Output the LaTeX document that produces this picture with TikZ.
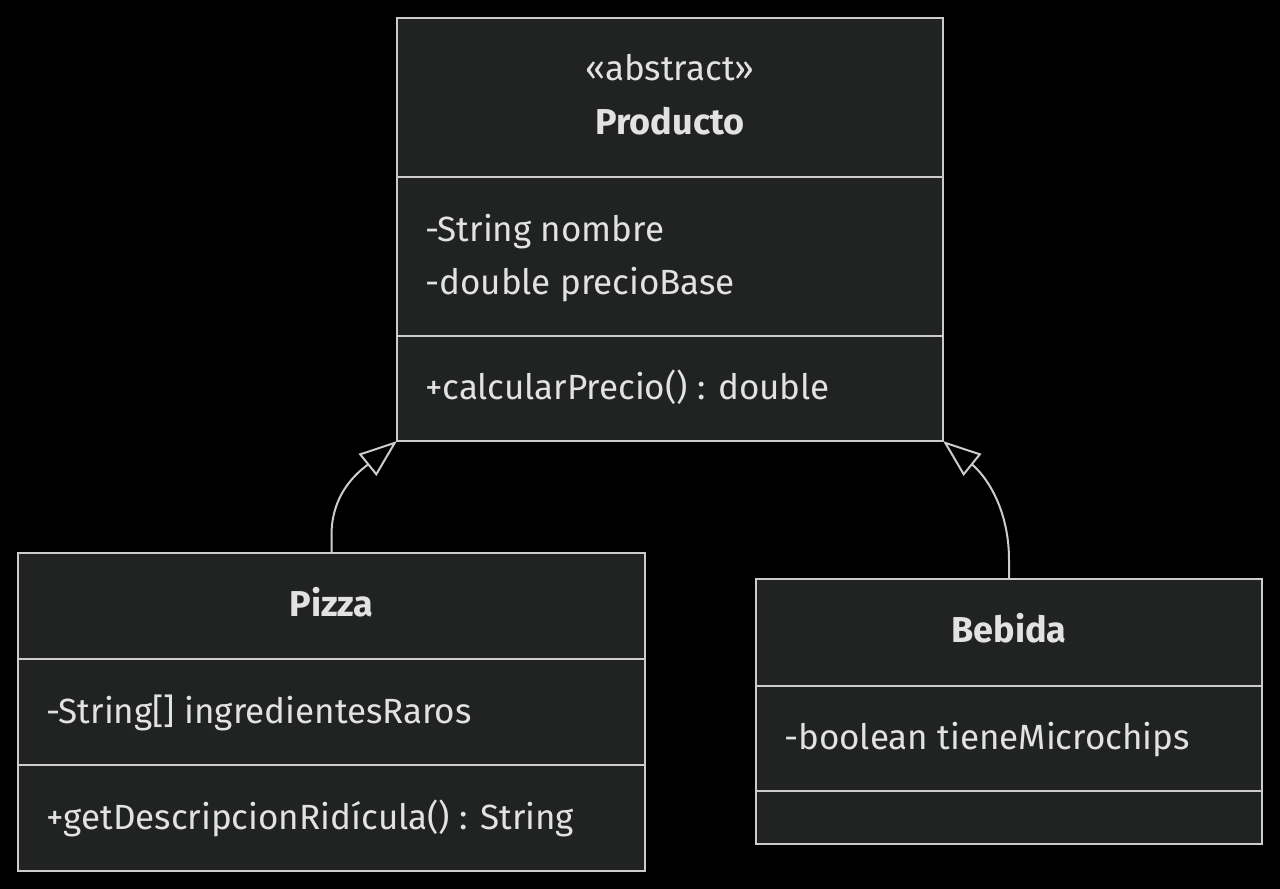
\documentclass[tikz,border=0pt]{standalone}
\usepackage{fontspec}
\setmainfont{Fira Sans}
\usetikzlibrary{arrows.meta}
\definecolor{boxfill}{RGB}{33,35,34}
\definecolor{boxline}{RGB}{204,204,204}
\definecolor{txt}{RGB}{226,226,226}
\tikzset{
  classbox/.style={draw=boxline, fill=boxfill, line width=2pt, inner sep=0pt},
  divider/.style={draw=boxline, line width=2pt},
  member/.style={anchor=base west, inner sep=0pt, text=txt, font=\fontsize{35}{42}\selectfont},
  title/.style={anchor=base, inner sep=0pt, text=txt, font=\fontsize{36}{42}\selectfont\bfseries},
  stereo/.style={anchor=base, inner sep=0pt, text=txt, font=\fontsize{35}{42}\selectfont},
  inherit/.style={draw=boxline, line width=2pt,
    -{Triangle[open, length=38pt, width=28pt, fill=black]}},
}
\begin{document}
\begin{tikzpicture}[x=1pt,y=1pt]
\path[fill=black] (0,0) rectangle (1280,-889);
\useasboundingbox (0,0) rectangle (1280,-889);

% Producto
\path[classbox] (397,-18) rectangle (943,-441);
\coordinate (prodSW) at (397,-441);
\coordinate (prodSE) at (943,-441);
\draw[divider] (397,-177) -- (943,-177);
\draw[divider] (397,-336) -- (943,-336);
\node[stereo] (prodst) at (670,-80) {«abstract»};
\node[title] (prodt) at (670,-134) {Producto};
\node[member] (proda1) at (425,-241) {-String nombre};
\node[member] (proda2) at (425,-294) {-double precioBase};
\node[member] (prodm1) at (425,-399) {+calcularPrecio() : double};

% Pizza
\path[classbox] (18,-553) rectangle (645,-871);
\coordinate (pizzaN) at (331.5,-553);
\draw[divider] (18,-659) -- (645,-659);
\draw[divider] (18,-765) -- (645,-765);
\node[title] (pizzat) at (331.5,-616) {Pizza};
\node[member] (pizzaa1) at (46,-723) {-String[] ingredientesRaros};
\node[member] (pizzam1) at (46,-829) {+getDescripcionRidícula() : String};

% Bebida
\path[classbox] (756,-579) rectangle (1262,-844);
\coordinate (bebN) at (1009,-579);
\draw[divider] (756,-686) -- (1262,-686);
\draw[divider] (756,-791) -- (1262,-791);
\node[title] (bebt) at (1009,-642) {Bebida};
\node[member] (beba1) at (784,-749) {-boolean tieneMicrochips};

% inheritance
\draw[inherit] (pizzaN) -- (331.5,-535) to[out=90,in=-141] (prodSW);
\draw[inherit] (bebN) -- (1009,-560) to[out=90,in=-39] (prodSE);
\end{tikzpicture}
\end{document}
